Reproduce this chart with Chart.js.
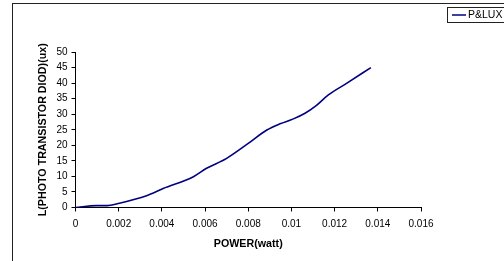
<!DOCTYPE html>
<html>
<head>
<meta charset="utf-8">
<script src="https://cdn.jsdelivr.net/npm/chart.js@4/dist/chart.umd.min.js"></script>
<style>
body { margin: 0; background: #fff; }
#wrap { width: 504px; height: 261px; }
</style>
</head>
<body>
<div id="wrap"><canvas id="c" width="504" height="261"></canvas></div>
<script>
// power (watt) vs light level
var power = [0, 0.00097, 0.00147, 0.00198, 0.00329, 0.00406, 0.00546, 0.00607, 0.0070, 0.0080, 0.00886, 0.00947, 0.01009, 0.01063, 0.0111, 0.01171, 0.01257, 0.01368]
var lux = [0, 0.6, 0.6, 1.3, 3.8, 6.1, 9.9, 12.6, 15.8, 20.6, 24.9, 26.9, 28.5, 30.3, 32.5, 36.2, 40, 45]
var seriesName = 'P&LUX'
var xTicks = [0, 0.002, 0.004, 0.006, 0.008, 0.01, 0.012, 0.014, 0.016]

var pts = []
for (i = 0; i < power.length; i += 1) {
    pts.push({x: power[i], y: lux[i]})
}

var font = 'Liberation Sans, Arial, sans-serif'

// outer frame + boxed legend like the excel one
var frame = {
    id: 'frame',
    beforeDraw: function(chart) {
        var ctx = chart.ctx
        ctx.save()
        ctx.fillStyle = '#fff'
        ctx.fillRect(0, 0, chart.width, chart.height)
        ctx.strokeStyle = '#222'
        ctx.lineWidth = 1
        ctx.strokeRect(12.5, 3.5, 600, 300)
        ctx.restore()
    },
    afterDraw: function(chart) {
        var ctx = chart.ctx
        var ds = chart.data.datasets[0]
        ctx.save()
        ctx.strokeStyle = '#222'
        ctx.lineWidth = 1
        ctx.strokeRect(447.5, 7.5, 80, 15)
        ctx.strokeStyle = ds.borderColor
        ctx.lineWidth = 1.5
        ctx.beginPath()
        ctx.moveTo(452, 15)
        ctx.lineTo(466, 15)
        ctx.stroke()
        ctx.fillStyle = '#000'
        ctx.font = '10.5px ' + font
        ctx.textBaseline = 'middle'
        ctx.fillText(ds.label, 468, 15.5)
        ctx.restore()
    }
}

var config = {
    type: 'scatter',
    data: {
        datasets: [{
            label: seriesName,
            data: pts,
            showLine: true,
            borderColor: '#000080',
            borderWidth: 1.6,
            pointRadius: 0,
            tension: 0.4,
            cubicInterpolationMode: 'monotone'
        }]
    },
    options: {
        responsive: false,
        animation: false,
        layout: {padding: {left: 37, top: 52, right: 83, bottom: 0}},
        plugins: {
            legend: {display: false},
            tooltip: {enabled: false}
        },
        scales: {
            x: {
                type: 'linear',
                min: 0,
                max: 0.016,
                afterBuildTicks: function(scale) {
                    scale.ticks = xTicks.map(function(v) { return {value: v} })
                },
                afterFit: function(scale) { scale.height = 53.5 },
                border: {display: true, color: '#000', width: 1},
                grid: {drawOnChartArea: false, drawTicks: true, tickLength: 4, color: '#000'},
                ticks: {
                    color: '#000',
                    padding: 7,
                    maxRotation: 0,
                    font: {family: font, size: 10},
                    callback: function(v) { return String(+v.toFixed(3)) }
                },
                title: {
                    display: true,
                    text: 'POWER(watt)',
                    color: '#000',
                    padding: {top: 0, bottom: 11},
                    font: {family: font, size: 10.7, weight: 'bold'}
                }
            },
            y: {
                min: 0,
                max: 50,
                afterFit: function(scale) { scale.width = 38.5 },
                border: {display: true, color: '#000', width: 1},
                grid: {drawOnChartArea: false, drawTicks: true, tickLength: 4, color: '#000'},
                ticks: {
                    stepSize: 5,
                    color: '#000',
                    padding: 4,
                    font: {family: font, size: 10}
                },
                title: {
                    display: true,
                    text: 'L(PHOTO TRANSISTOR DIOD)(ux)',
                    color: '#000',
                    padding: {top: 0, bottom: 0},
                    font: {family: font, size: 10.7, weight: 'bold'}
                }
            }
        }
    },
    plugins: [frame]
}

var myChart = new Chart(document.getElementById('c'), config)
</script>
</body>
</html>
